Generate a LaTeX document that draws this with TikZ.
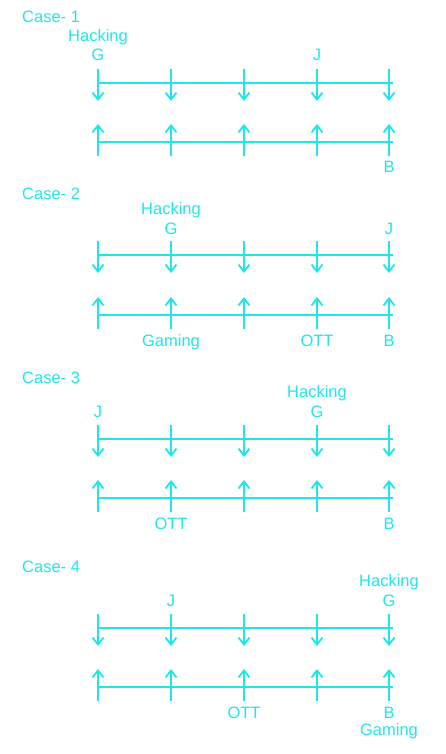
\documentclass[tikz,border=0pt]{standalone}
\usepackage{fontspec}
\setmainfont{Liberation Sans}
\usetikzlibrary{arrows.meta}
\definecolor{cy}{RGB}{30,230,235}
\begin{document}
\begin{tikzpicture}[x=1pt,y=-1pt,
  lab/.style={anchor=base, inner sep=0pt, text=cy, font=\fontsize{16.5}{18}\selectfont},
  ttl/.style={lab, anchor=base west},
  ln/.style={draw=cy, line width=1.8pt},
  arr/.style={ln, -{Straight Barb[length=7pt,width=11pt]}}]
\useasboundingbox (0,0) rectangle (446,754);
\foreach \c/\T/\B in {1/83/142, 2/255/315, 3/439/498, 4/628/687} {
  \coordinate (t\c a) at (97,\T);
  \coordinate (t\c b) at (393,\T);
  \coordinate (b\c a) at (97,\B);
  \coordinate (b\c b) at (393,\B);
  \draw[ln] (t\c a) -- (t\c b);
  \draw[ln] (b\c a) -- (b\c b);
  \foreach \x [count=\k] in {98,171,244,317,389} {
    \coordinate (t\c s\k) at (\x,\T-14);
    \coordinate (t\c e\k) at (\x,\T+18);
    \coordinate (b\c s\k) at (\x,\B+14);
    \coordinate (b\c e\k) at (\x,\B-18);
    \draw[arr] (t\c s\k) -- (t\c e\k);
    \draw[arr] (b\c s\k) -- (b\c e\k);
  }
}
% Case 1
\node[ttl] (c1) at (22,22.5) {Case- 1};
\node[lab] (h1) at (98,41.5) {Hacking};
\node[lab] (g1) at (98,61) {G};
\node[lab] (j1) at (317,61) {J};
\node[lab] (bb1) at (389,172.5) {B};
% Case 2
\node[ttl] (c2) at (22,199.5) {Case- 2};
\node[lab] (h2) at (171,214.5) {Hacking};
\node[lab] (g2) at (171,234) {G};
\node[lab] (j2) at (389,234) {J};
\node[lab] (gm2) at (171,346) {Gaming};
\node[lab] (o2) at (317,346) {OTT};
\node[lab] (bb2) at (389,346) {B};
% Case 3
\node[ttl] (c3) at (22,383.3) {Case- 3};
\node[lab] (h3) at (317,397.5) {Hacking};
\node[lab] (g3) at (317,417) {G};
\node[lab] (j3) at (98,417) {J};
\node[lab] (o3) at (171,529) {OTT};
\node[lab] (bb3) at (389,529) {B};
% Case 4
\node[ttl] (c4) at (22,572) {Case- 4};
\node[lab] (h4) at (389,586.5) {Hacking};
\node[lab] (g4) at (389,606) {G};
\node[lab] (j4) at (171,606) {J};
\node[lab] (o4) at (244,718.3) {OTT};
\node[lab] (bb4) at (389,718.3) {B};
\node[lab] (gm4) at (389,735) {Gaming};
\end{tikzpicture}
\end{document}
